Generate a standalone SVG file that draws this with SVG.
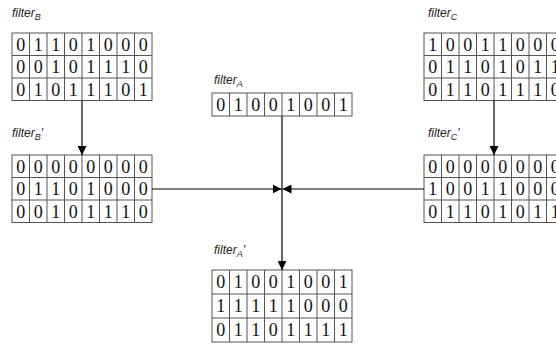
<svg xmlns="http://www.w3.org/2000/svg" width="556" height="350" viewBox="0 0 556 350">
<defs>
<style>
.g{fill:#fff;stroke:#555;stroke-width:1}
.gl{stroke:#555;stroke-width:1;fill:none}
.d{font-family:"Liberation Serif","Times New Roman",serif;font-size:18px;fill:#111;text-anchor:middle}
.lb{font-family:"Liberation Sans",Arial,sans-serif;font-style:italic;font-size:12px;fill:#222}
.sub{font-size:9px}
.c{stroke:#000;stroke-width:1.2;fill:none}
</style>
<marker id="ah" viewBox="0 0 10 10" refX="10" refY="5" markerWidth="9" markerHeight="9" markerUnits="userSpaceOnUse" orient="auto">
<path d="M0,0 L10,5 L0,10 Z" fill="#000"/>
</marker>
</defs>
<rect width="556" height="350" fill="#fff"/>

<g id="filterB">
<text class="lb" x="12" y="17">filter<tspan class="sub" dy="3">B</tspan></text>
<rect class="g" x="12" y="33" width="140" height="67.5"/>
<path class="gl" d="M12,55.5H152M12,78H152M29.5,33V100.5M47,33V100.5M64.5,33V100.5M82,33V100.5M99.5,33V100.5M117,33V100.5M134.5,33V100.5"/>
<text class="d" x="20.75 38.25 55.75 73.25 90.75 108.25 125.75 143.25" y="50.5">01101000</text>
<text class="d" x="20.75 38.25 55.75 73.25 90.75 108.25 125.75 143.25" y="73">00101110</text>
<text class="d" x="20.75 38.25 55.75 73.25 90.75 108.25 125.75 143.25" y="95.5">01011101</text>
</g>

<g id="filterB2">
<text class="lb" x="12" y="137">filter<tspan class="sub" dy="3">B</tspan><tspan dy="-3">'</tspan></text>
<rect class="g" x="12" y="155" width="140" height="67.5"/>
<path class="gl" d="M12,177.5H152M12,200H152M29.5,155V222.5M47,155V222.5M64.5,155V222.5M82,155V222.5M99.5,155V222.5M117,155V222.5M134.5,155V222.5"/>
<text class="d" x="20.75 38.25 55.75 73.25 90.75 108.25 125.75 143.25" y="172.5">00000000</text>
<text class="d" x="20.75 38.25 55.75 73.25 90.75 108.25 125.75 143.25" y="195">01101000</text>
<text class="d" x="20.75 38.25 55.75 73.25 90.75 108.25 125.75 143.25" y="217.5">00101110</text>
</g>

<g id="filterA">
<text class="lb" x="214" y="84">filter<tspan class="sub" dy="3">A</tspan></text>
<rect class="g" x="212" y="93" width="140" height="23"/>
<path class="gl" d="M229.5,93V116M247,93V116M264.5,93V116M282,93V116M299.5,93V116M317,93V116M334.5,93V116"/>
<text class="d" x="220.75 238.25 255.75 273.25 290.75 308.25 325.75 343.25" y="110.5">01001001</text>
</g>

<g id="filterA2">
<text class="lb" x="214" y="254">filter<tspan class="sub" dy="3">A</tspan><tspan dy="-3">'</tspan></text>
<rect class="g" x="212" y="270" width="140" height="72"/>
<path class="gl" d="M212,294H352M212,318H352M229.5,270V342M247,270V342M264.5,270V342M282,270V342M299.5,270V342M317,270V342M334.5,270V342"/>
<text class="d" x="220.75 238.25 255.75 273.25 290.75 308.25 325.75 343.25" y="288">01001001</text>
<text class="d" x="220.75 238.25 255.75 273.25 290.75 308.25 325.75 343.25" y="312">11111000</text>
<text class="d" x="220.75 238.25 255.75 273.25 290.75 308.25 325.75 343.25" y="336">01101111</text>
</g>

<g id="filterC">
<text class="lb" x="428" y="17">filter<tspan class="sub" dy="3">C</tspan></text>
<rect class="g" x="424" y="33" width="140" height="67.5"/>
<path class="gl" d="M424,55.5H564M424,78H564M441.5,33V100.5M459,33V100.5M476.5,33V100.5M494,33V100.5M511.5,33V100.5M529,33V100.5M546.5,33V100.5"/>
<text class="d" x="432.75 450.25 467.75 485.25 502.75 520.25 537.75 555.25" y="50.5">10011000</text>
<text class="d" x="432.75 450.25 467.75 485.25 502.75 520.25 537.75 555.25" y="73">01101011</text>
<text class="d" x="432.75 450.25 467.75 485.25 502.75 520.25 537.75 555.25" y="95.5">01101110</text>
</g>

<g id="filterC2">
<text class="lb" x="428" y="137">filter<tspan class="sub" dy="3">C</tspan><tspan dy="-3">'</tspan></text>
<rect class="g" x="424" y="155" width="140" height="67.5"/>
<path class="gl" d="M424,177.5H564M424,200H564M441.5,155V222.5M459,155V222.5M476.5,155V222.5M494,155V222.5M511.5,155V222.5M529,155V222.5M546.5,155V222.5"/>
<text class="d" x="432.75 450.25 467.75 485.25 502.75 520.25 537.75 555.25" y="172.5">00000000</text>
<text class="d" x="432.75 450.25 467.75 485.25 502.75 520.25 537.75 555.25" y="195">10011000</text>
<text class="d" x="432.75 450.25 467.75 485.25 502.75 520.25 537.75 555.25" y="217.5">01101011</text>
</g>

<g id="connectors">
<path class="c" d="M82,100.5V155" marker-end="url(#ah)"/>
<path class="c" d="M494,100.5V155" marker-end="url(#ah)"/>
<path class="c" d="M152,189H281.5" marker-end="url(#ah)"/>
<path class="c" d="M424,189H282.5" marker-end="url(#ah)"/>
<path class="c" d="M282,116V270" marker-end="url(#ah)"/>
</g>
</svg>
